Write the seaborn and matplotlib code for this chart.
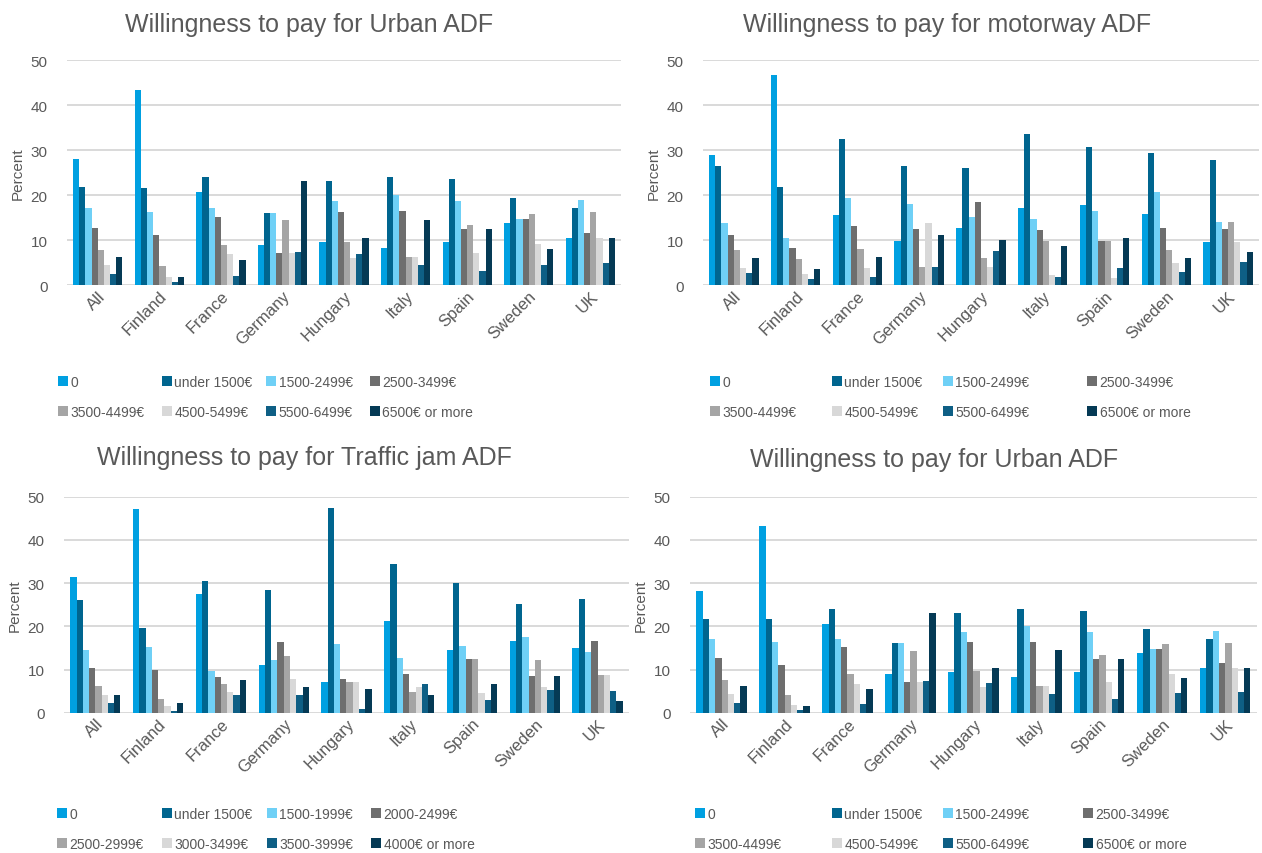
import pandas as pd
import numpy as np
import matplotlib
matplotlib.use('Agg')
import matplotlib.pyplot as plt
import seaborn as sns

sns.set_style('white')
plt.rcParams['font.family'] = ['Liberation Sans', 'DejaVu Sans']

countries = ['All', 'Finland', 'France', 'Germany', 'Hungary', 'Italy', 'Spain', 'Sweden', 'UK']

brackets_a = ['0', 'under 1500€', '1500-2499€', '2500-3499€',
              '3500-4499€', '4500-5499€', '5500-6499€', '6500€ or more']
brackets_b = ['0', 'under 1500€', '1500-1999€', '2000-2499€',
              '2500-2999€', '3000-3499€', '3500-3999€', '4000€ or more']

# one row per country, one value per bracket (percent)
urban = [
    [28.1, 21.7, 17.2, 12.6, 7.7, 4.4, 2.4, 6.3],
    [43.3, 21.6, 16.3, 11.1, 4.2, 1.8, 0.6, 1.7],
    [20.6, 24.1, 17.2, 15.2, 9.0, 6.8, 2.0, 5.6],
    [8.9, 16.1, 16.1, 7.2, 14.4, 7.2, 7.3, 23.2],
    [9.5, 23.1, 18.7, 16.3, 9.6, 6.0, 6.9, 10.4],
    [8.3, 24.0, 20.1, 16.4, 6.3, 6.3, 4.4, 14.5],
    [9.5, 23.5, 18.7, 12.4, 13.3, 7.1, 3.2, 12.5],
    [13.8, 19.4, 14.7, 14.7, 15.9, 9.1, 4.5, 8.0],
    [10.5, 17.2, 19.0, 11.6, 16.2, 10.4, 4.8, 10.5],
]
motorway = [
    [29.0, 26.4, 13.8, 11.1, 7.7, 3.9, 2.6, 6.1],
    [46.7, 21.7, 10.5, 8.3, 5.9, 2.4, 1.3, 3.6],
    [15.6, 32.4, 19.3, 13.1, 8.1, 3.7, 1.9, 6.2],
    [9.8, 26.4, 18.1, 12.5, 4.1, 13.9, 4.1, 11.2],
    [12.6, 26.1, 15.1, 18.4, 6.0, 4.1, 7.6, 10.1],
    [17.1, 33.6, 14.7, 12.2, 9.9, 2.3, 1.9, 8.6],
    [17.9, 30.7, 16.4, 9.8, 9.8, 1.5, 3.8, 10.5],
    [15.8, 29.4, 20.6, 12.7, 7.9, 4.8, 3.0, 6.0],
    [9.6, 27.9, 14.0, 12.5, 14.0, 9.6, 5.2, 7.4],
]
traffic_jam = [
    [31.5, 26.0, 14.5, 10.4, 6.3, 4.1, 2.3, 4.1],
    [47.1, 19.6, 15.2, 10.0, 3.3, 1.5, 0.4, 2.2],
    [27.5, 30.4, 9.7, 8.2, 6.8, 4.9, 4.1, 7.7],
    [11.0, 28.5, 12.2, 16.3, 13.2, 7.9, 4.1, 6.0],
    [7.2, 47.3, 16.0, 7.9, 7.2, 7.2, 0.8, 5.5],
    [21.2, 34.5, 12.6, 9.1, 4.8, 5.9, 6.6, 4.1],
    [14.6, 30.1, 15.5, 12.4, 12.4, 4.6, 3.1, 6.8],
    [16.6, 25.2, 17.5, 8.5, 12.2, 6.0, 5.2, 8.5],
    [15.0, 26.3, 14.0, 16.6, 8.8, 8.8, 5.0, 2.8],
]

colors = ['#00a0e1', '#00658f', '#6fd0f6', '#6e6e6e',
          '#a5a5a5', '#d8d8d8', '#0e5f85', '#053a55']
grey = '#595959'

panels = [
    ('Willingness to pay for Urban ADF', urban, brackets_a),
    ('Willingness to pay for motorway ADF', motorway, brackets_a),
    ('Willingness to pay for Traffic jam ADF', traffic_jam, brackets_b),
    ('Willingness to pay for Urban ADF', urban, brackets_a),
]

W, H = 1262, 854
rects = [
    [0.0531, 0.665, 0.439, 0.2635],
    [0.557, 0.665, 0.4406, 0.2635],
    [0.0507, 0.164, 0.4477, 0.2533],
    [0.5468, 0.164, 0.449, 0.2533],
]
# title left edge / centre y, legend column x's and top y (pixels)
titles_px = [(125, 25), (743, 25), (97, 458), (750, 460)]
leg_cols = [[58, 162, 266, 370], [710, 832, 943, 1087],
            [57, 162, 267, 371], [695, 832, 943, 1083]]
leg_top = [376, 376, 808, 808]

fig = plt.figure(figsize=(12.62, 8.54), dpi=100)

for i, (title, vals, labels) in enumerate(panels):
    ax = fig.add_axes(rects[i])
    df = pd.DataFrame(vals, columns=labels)
    df['country'] = countries
    long = df.melt(id_vars='country', var_name='bracket', value_name='pct')
    sns.barplot(data=long, x='country', y='pct', hue='bracket', hue_order=labels,
                order=countries, palette=colors, saturation=1, width=0.8,
                linewidth=0, ax=ax, errorbar=None)
    ax.set_ylim(0, 50)
    ax.set_yticks([0, 10, 20, 30, 40, 50])
    ax.grid(axis='y', color='#d9d9d9', linewidth=1.4)
    ax.set_axisbelow(True)
    for s in ax.spines.values():
        s.set_visible(False)
    ax.tick_params(axis='both', length=0, labelcolor=grey)
    ax.tick_params(axis='y', pad=14, labelsize=11)
    ax.tick_params(axis='x', labelsize=12, pad=2)
    plt.setp(ax.get_xticklabels(), rotation=45, ha='right', rotation_mode='anchor')
    ax.set_xlabel('')
    ax.set_ylabel('Percent', fontsize=11, color=grey, labelpad=4)
    tx, ty = titles_px[i]
    fig.text(tx / W, 1 - ty / H, title, ha='left', va='center', fontsize=18, color=grey)

    # legend laid out row-wise in four fixed columns
    handles, labs = ax.get_legend_handles_labels()
    ax.get_legend().remove()
    for c in range(4):
        leg = fig.legend([handles[c], handles[c + 4]], [labs[c], labs[c + 4]],
                         loc='upper left',
                         bbox_to_anchor=(leg_cols[i][c] / W, 1 - leg_top[i] / H),
                         frameon=False, fontsize=10, labelcolor=grey,
                         handlelength=0.7, handleheight=0.7, handletextpad=0.2,
                         labelspacing=1.15, borderpad=0, borderaxespad=0)

fig.savefig('out.png', dpi=100)
